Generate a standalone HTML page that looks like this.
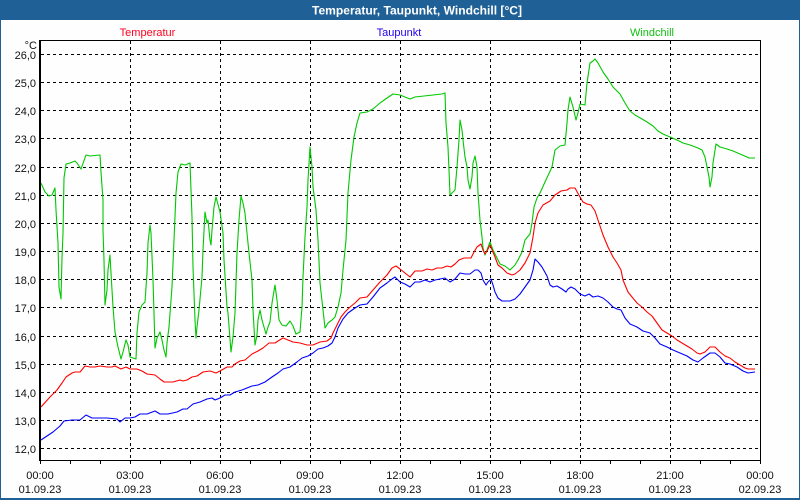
<!DOCTYPE html>
<html><head><meta charset="utf-8"><style>
html,body{margin:0;padding:0;background:#fdfefd;}
svg{display:block;}
text{font-family:"Liberation Sans",sans-serif;}
</style></head><body>
<svg width="800" height="500" viewBox="0 0 800 500" xmlns="http://www.w3.org/2000/svg">
<rect x="0" y="0" width="800" height="500" fill="#fdfefd"/>
<rect x="0" y="0" width="800" height="20" fill="#1f6096"/>
<rect x="0" y="0" width="1" height="500" fill="#1f6096"/>
<rect x="799" y="0" width="1" height="500" fill="#1f6096"/>
<rect x="0" y="498" width="800" height="2" fill="#1f6096"/>
<text x="417" y="14.5" text-anchor="middle" fill="#ffffff" font-weight="bold" font-size="12" textLength="210" lengthAdjust="spacingAndGlyphs">Temperatur, Taupunkt, Windchill [°C]</text>
<text x="147.5" y="36" text-anchor="middle" fill="#ff0020" font-size="11">Temperatur</text>
<text x="399" y="36" text-anchor="middle" fill="#2200ee" font-size="11">Taupunkt</text>
<text x="652" y="36" text-anchor="middle" fill="#10c010" font-size="11">Windchill</text>
<g stroke="#000" stroke-width="1" stroke-dasharray="3,3" fill="none">
<path d="M41 448.5H760M41 420.5H760M41 392.5H760M41 364.5H760M41 336.5H760M41 307.5H760M41 279.5H760M41 251.5H760M41 223.5H760M41 195.5H760M41 167.5H760M41 138.5H760M41 110.5H760M41 82.5H760M41 54.5H760"/>
<path d="M130.5 41V460M220.5 41V460M310.5 41V460M400.5 41V460M490.5 41V460M580.5 41V460M670.5 41V460"/>
</g>
<g fill="none" stroke-width="1.1" stroke-linejoin="round">
<polyline stroke="#00c800" points="41,183 45,192 49,196 52,195 55,188 56,210 58,243 59,287 61,299 62,258 63,233 64,178 66,164 70,163 75,161 77,163 81,169 86,155 90,156 100,155 101,172 103,200 103,230 104,260 105,305 107,290 108,270 110,255 111,273 113,307 115,332 118,347 121,359 123,352 126,340 128,345 130,357 133,358 136,359 137,333 139,312 142,305 145,302 147,273 148,243 150,225 151,233 153,280 154,313 155,348 157,338 160,332 162,340 164,350 166,357 167,343 169,327 172,287 174,240 176,193 178,172 181,164 185,165 190,163 192,217 193,267 195,320 196,338 197,327 199,310 202,277 203,250 205,212 207,223 208,220 210,240 211,245 212,230 214,207 216,197 220,212 223,233 224,260 227,307 228,313 231,352 233,337 235,313 237,253 239,220 241,196 243,203 245,213 247,233 249,253 252,280 253,310 255,345 257,335 258,320 260,310 262,320 266,334 268,327 270,322 272,303 275,285 277,300 279,320 282,325 286,326 290,321 293,326 296,334 300,332 302,307 303,277 305,237 307,207 308,180 310,147 312,167 313,187 316,210 318,240 320,283 323,310 325,328 328,323 332,320 335,317 338,307 341,293 343,270 346,240 348,193 351,160 354,137 357,123 360,113 367,112 373,109 380,103 387,98 393,94 400,95 405,97 410,99 415,97 433,95 442,94 445,93 446,123 448,147 449,170 450,195 455,190 457,167 459,140 460,120 462,130 463,140 465,157 467,167 468,180 470,189 472,177 473,163 475,156 477,167 478,193 480,220 482,237 483,248 485,255 487,250 490,242 493,250 497,258 500,264 505,266 510,270 515,265 518,260 522,252 525,240 530,234 532,223 534,207 537,198 540,193 545,182 552,167 555,150 560,146 565,145 567,123 568,110 570,97 573,107 576,120 578,113 580,104 585,105 587,83 590,63 593,61 595,59 598,63 603,72 608,79 613,87 620,94 625,103 630,111 635,115 642,119 647,122 653,126 658,131 663,134 670,137 677,140 683,143 690,145 698,148 702,150 705,157 707,167 709,177 710,187 712,177 713,163 716,144 720,147 727,149 733,151 740,154 747,157 749,158 755,158"/>
<polyline stroke="#ff0000" points="41,407 50,397 57,390 62,383 66,377 72,373 75,372 80,372 85,366 90,367 95,367 100,366 107,367 112,367 115,366 121,369 126,367 130,369 137,369 142,371 147,374 155,375 160,379 164,382 173,382 180,380 183,381 187,380 192,377 197,376 203,372 210,371 216,373 220,371 227,367 232,367 235,364 240,361 245,360 252,354 258,351 263,348 269,343 275,343 278,341 283,338 288,340 293,342 300,343 307,345 313,345 320,342 327,341 331,338 333,333 337,325 341,317 345,312 350,307 355,303 360,298 367,297 373,290 380,282 387,275 392,268 396,266 400,269 405,273 410,277 415,271 422,271 427,269 432,270 437,268 442,268 447,266 451,267 455,264 459,260 464,258 471,258 474,252 477,247 481,244 483,250 485,254 487,251 490,245 493,252 495,257 498,265 502,268 507,273 512,275 515,274 520,270 525,263 530,253 533,237 535,223 538,213 543,205 550,201 555,195 561,191 567,190 570,188 575,188 580,197 583,202 587,204 591,205 595,211 598,220 603,235 608,247 613,257 617,263 621,270 623,280 628,292 632,297 637,303 642,307 647,312 652,316 657,323 662,330 667,333 672,336 677,340 682,343 687,346 692,349 697,353 700,354 705,352 710,347 715,347 720,352 725,356 730,358 735,362 740,365 745,368 748,369 755,369"/>
<polyline stroke="#0000ff" points="41,440 47,436 53,432 60,426 64,421 72,420 80,420 86,415 92,418 107,418 117,419 120,422 125,418 130,418 135,417 140,414 147,414 155,411 160,414 168,414 177,412 183,409 187,409 193,404 200,402 207,399 212,398 215,400 220,398 225,395 230,395 235,392 242,390 247,388 252,386 258,385 265,382 272,377 278,373 283,369 290,367 297,362 302,358 308,356 313,353 318,349 323,348 328,346 332,343 335,337 338,328 343,319 348,313 355,308 360,305 367,304 373,297 380,288 387,283 392,279 395,277 400,282 405,284 410,287 415,282 420,282 425,280 430,282 435,280 440,279 445,278 450,282 455,279 460,273 465,274 470,274 475,270 478,270 481,273 483,280 486,285 488,282 491,279 493,285 495,292 498,298 502,301 510,301 515,299 520,294 525,287 530,280 533,270 535,259 538,262 542,267 547,276 550,285 553,287 557,286 562,289 566,292 568,289 571,287 575,289 580,294 585,296 589,294 593,297 598,296 603,298 608,302 613,307 617,309 621,310 625,318 630,324 637,327 643,331 650,333 655,338 660,344 667,347 673,350 680,353 687,356 693,360 698,362 703,358 710,353 715,353 720,357 725,363 730,364 737,367 743,371 748,373 755,372"/>
</g>
<g stroke="#000" stroke-width="1" fill="none">
<rect x="40.5" y="40.5" width="720" height="420"/>
<path d="M40 40V461" stroke-width="2"/>
<path d="M40.5 461V464M70.5 461V464M100.5 461V464M130.5 461V464M160.5 461V464M190.5 461V464M220.5 461V464M250.5 461V464M280.5 461V464M310.5 461V464M340.5 461V464M370.5 461V464M400.5 461V464M430.5 461V464M460.5 461V464M490.5 461V464M520.5 461V464M550.5 461V464M580.5 461V464M610.5 461V464M640.5 461V464M670.5 461V464M700.5 461V464M730.5 461V464M760.5 461V464"/>
</g>
<g fill="#111" font-size="11" text-anchor="end">
<text x="37" y="49">°C</text>
<text x="36" y="59">26,0</text>
<text x="36" y="87">25,0</text>
<text x="36" y="115">24,0</text>
<text x="36" y="143">23,0</text>
<text x="36" y="172">22,0</text>
<text x="36" y="200">21,0</text>
<text x="36" y="228">20,0</text>
<text x="36" y="256">19,0</text>
<text x="36" y="284">18,0</text>
<text x="36" y="312">17,0</text>
<text x="36" y="341">16,0</text>
<text x="36" y="369">15,0</text>
<text x="36" y="397">14,0</text>
<text x="36" y="425">13,0</text>
<text x="36" y="453">12,0</text>
</g>
<g fill="#111" font-size="11" text-anchor="middle">
<text x="40" y="479">00:00</text><text x="40" y="493">01.09.23</text>
<text x="130" y="479">03:00</text><text x="130" y="493">01.09.23</text>
<text x="220" y="479">06:00</text><text x="220" y="493">01.09.23</text>
<text x="310" y="479">09:00</text><text x="310" y="493">01.09.23</text>
<text x="400" y="479">12:00</text><text x="400" y="493">01.09.23</text>
<text x="490" y="479">15:00</text><text x="490" y="493">01.09.23</text>
<text x="580" y="479">18:00</text><text x="580" y="493">01.09.23</text>
<text x="670" y="479">21:00</text><text x="670" y="493">01.09.23</text>
<text x="760" y="479">00:00</text><text x="760" y="493">02.09.23</text>
</g>
</svg>
</body></html>
